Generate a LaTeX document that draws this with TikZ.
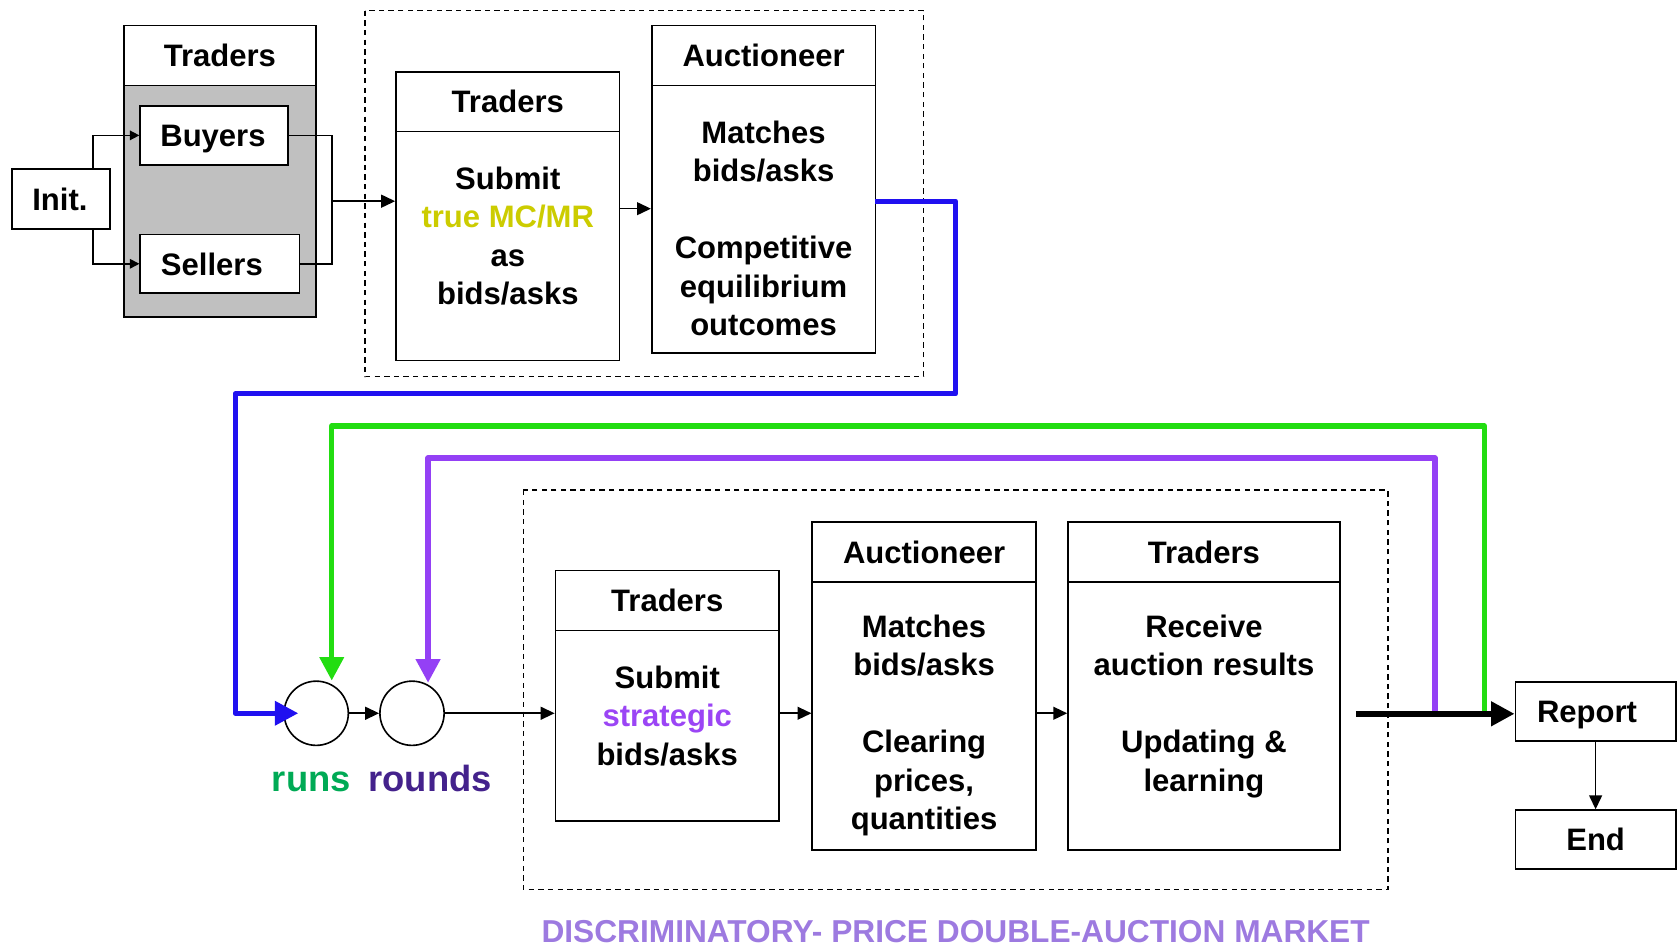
\documentclass[tikz,border=0pt]{standalone}
\usepackage{fontspec}
\setmainfont{Liberation Sans}
\usetikzlibrary{arrows.meta,calc}
\definecolor{boxgray}{HTML}{C0C0C0}
\definecolor{mcyel}{HTML}{CCCC00}
\definecolor{strat}{HTML}{9B45F5}
\definecolor{purpl}{HTML}{9440F5}
\definecolor{greenl}{HTML}{22DD11}
\definecolor{bluel}{HTML}{2010F0}
\definecolor{runsc}{HTML}{00AA55}
\definecolor{roundsc}{HTML}{44228C}
\definecolor{titlec}{HTML}{9D7AE0}
\tikzset{
  every node/.style={font=\bfseries\fontsize{29}{36}\selectfont, inner sep=0pt},
  boxx/.style={draw, line width=1.5pt, fill=white, rectangle},
  head/.style={draw, line width=1.5pt, fill=white, rectangle},
  txt/.style={align=center},
  dbox/.style={draw, dashed, line width=1.2pt, dash pattern=on 5pt off 4pt},
  arr/.style={line width=1.5pt, -{Triangle[length=13pt,width=12pt]}},
  sarr/.style={line width=1.5pt, -{Triangle[length=9pt,width=9pt]}},
  thin/.style={line width=1.5pt},
  fat/.style={line width=5pt, line join=round, -{Triangle[length=22pt,width=22pt]}},
  circ/.style={draw, circle, line width=1.5pt, minimum size=60pt},
  lbl/.style={anchor=base},
  big/.style={anchor=base, font=\bfseries\fontsize{34}{40}\selectfont},
}
\begin{document}
\begin{tikzpicture}[x=1pt,y=-1pt]
\useasboundingbox (0,0) rectangle (1568,888);

% dashed frames
\draw[dbox] (341,10) rectangle (863,352);
\draw[dbox] (489,458) rectangle (1297,831);

% top-left traders group
\node[draw, line width=1.5pt, fill=boxgray, minimum width=179pt, minimum height=272pt] (tro) at (205.5,160) {};
\node[head, minimum width=179pt, minimum height=56pt] (troh) at (205.5,52) {Traders};
\node[boxx, minimum width=138pt, minimum height=55pt] (buy) at (200,126.5) {};
\node[lbl] (buyT) at (199,137) {Buyers};
\node[boxx, minimum width=149pt, minimum height=55pt] (sel) at (205.5,246.5) {};
\node[lbl] (selT) at (198,257) {Sellers};
\node[boxx, minimum width=92pt, minimum height=56pt] (init) at (57,186) {};
\node[lbl] (initT) at (56,197) {Init.};

% Traders 2
\node[boxx, minimum width=209pt, minimum height=270pt] (t2) at (474.5,202) {};
\node[head, minimum width=209pt, minimum height=56pt] (t2h) at (474.5,95) {Traders};
\node[txt] (t2b) at (474.5,220.5) {Submit\\{\color{mcyel}true MC/MR}\\as\\bids/asks};

% Auctioneer 1
\node[boxx, minimum width=209pt, minimum height=306pt] (a1) at (713.5,177) {};
\node[head, minimum width=209pt, minimum height=56pt] (a1h) at (713.5,52) {Auctioneer};
\node[txt] (a1b) at (713.5,213.5) {Matches\\bids/asks\\[36pt]Competitive\\equilibrium\\outcomes};

% Traders 3
\node[boxx, minimum width=209pt, minimum height=234pt] (t3) at (623.5,650) {};
\node[head, minimum width=209pt, minimum height=56pt] (t3h) at (623.5,561) {Traders};
\node[txt] (t3b) at (623.5,669) {Submit\\{\color{strat}strategic}\\bids/asks};

% Auctioneer 2
\node[boxx, minimum width=209pt, minimum height=306pt] (a2) at (863.5,641) {};
\node[head, minimum width=209pt, minimum height=56pt] (a2h) at (863.5,516) {Auctioneer};
\node[txt] (a2b) at (863.5,678) {Matches\\bids/asks\\[36pt]Clearing\\prices,\\quantities};

% Traders 4
\node[boxx, minimum width=254pt, minimum height=306pt] (t4) at (1125,641) {};
\node[head, minimum width=254pt, minimum height=56pt] (t4h) at (1125,516) {Traders};
\node[txt] (t4b) at (1125,660) {Receive\\auction results\\[36pt]Updating \&\\learning};

% Report / End
\node[boxx, minimum width=150pt, minimum height=55pt] (rep) at (1491,665) {};
\node[lbl] (repT) at (1483,675.5) {Report};
\node[boxx, minimum width=150pt, minimum height=55pt] (fin) at (1491,784.5) {};
\node[lbl] (finT) at (1491,795) {End};

% circles
\node[circ] (c1) at (295.5,666.5) {};
\node[circ] (c2) at (385,666.5) {};
\node[big, text=runsc] (runs) at (291,740) {runs};
\node[big, text=roundsc] (rounds) at (402,740) {rounds};

% title
\node[anchor=base, text=titlec, font=\bfseries\fontsize{29.6}{34}\selectfont] (title) at (893,881) {DISCRIMINATORY- PRICE DOUBLE-AUCTION MARKET};

% top connectors
\coordinate (i1) at ($(init.north east)+(-17,0)$);
\coordinate (i2) at ($(init.south east)+(-17,0)$);
\draw[sarr] (i1) |- (buy.west);
\draw[sarr] (i2) |- (sel.west);
\coordinate (jx) at (310,188);
\draw[thin] (buy.east) -| (jx) |- (sel.east);
\draw[arr] (jx) -- (jx -| t2.west);
\coordinate (t2o) at ($(t2.east)+(0,-7)$);
\draw[arr] (t2o) -- (t2o -| a1.west);

% bottom connectors
\draw[arr] (c1.east) -- (c2.west);
\draw[arr] (c2.east) -- (c2.east -| t3.west);
\draw[arr] (c2.east -| t3.east) -- (c2.east -| a2.west);
\draw[arr] (c2.east -| a2.east) -- (c2.east -| t4.west);
\draw[arr] (rep.south) -- (fin.north);

% feedback loops
\coordinate (b0) at (818,188);
\draw[fat, bluel, shorten >=-14pt] (b0) -- (893,188) -- (893,368) -- (220,368) -- (220,666.5) -- (c1.west);
\coordinate (g0) at (1387,667);
\draw[fat, greenl] (g0) -- (1387,398) -- (310,398) -- (310,636);
\coordinate (p0) at (1341,667);
\draw[fat, purpl] (p0) -- (1341,428) -- (400,428) -- (400,638);
\coordinate (k0) at (1267,667);
\draw[line width=6pt, -{Triangle[length=22pt,width=22pt]}] (k0) -- (k0 -| rep.west);
\end{tikzpicture}
\end{document}
